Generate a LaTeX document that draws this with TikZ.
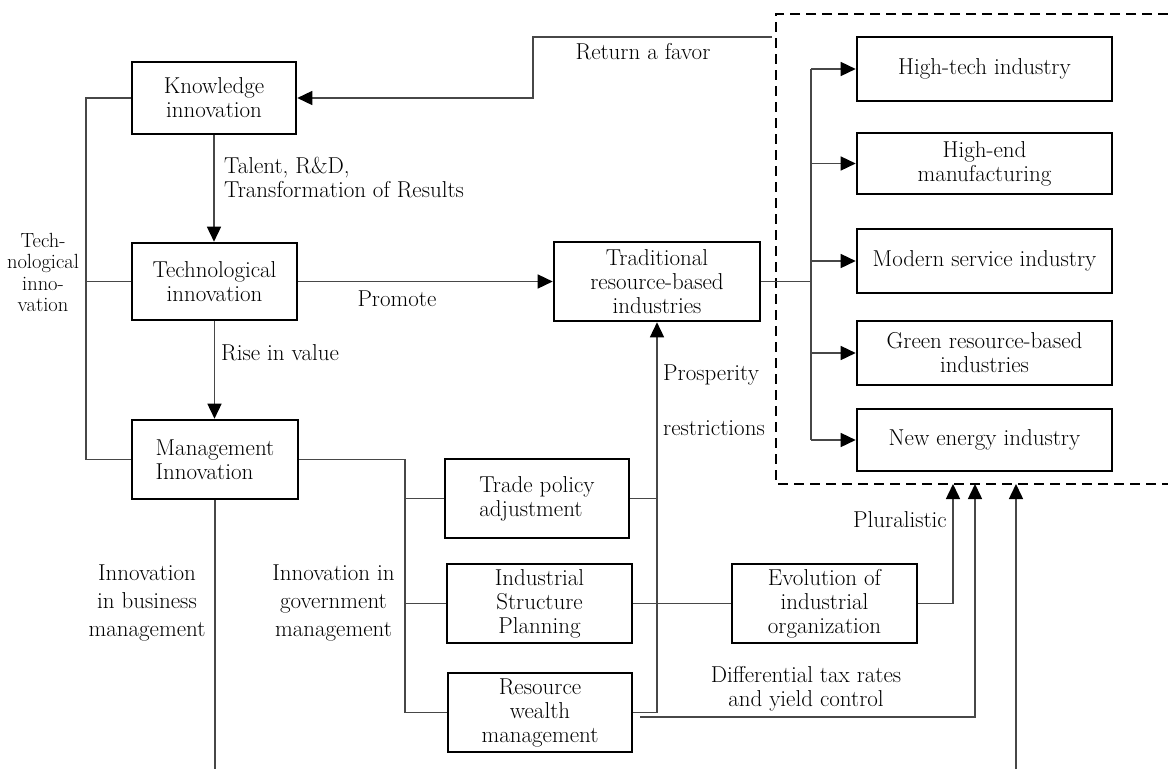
\documentclass[tikz,border=0pt]{standalone}
\usetikzlibrary{arrows.meta}
\newcommand{\bfnt}{\fontsize{23}{24}\selectfont}
\newcommand{\sfnt}{\fontsize{20.5}{21.5}\selectfont}
\newcommand{\lfnt}{\fontsize{23}{28}\selectfont}
\begin{document}
\begin{tikzpicture}[x=1pt,y=-1pt,
 box/.style={draw=black, line width=2.6pt, inner sep=0pt, align=center, font=\bfnt, text=black},
 conn/.style={draw=black!72, line width=1.5pt},
 arr/.style={conn, -{Triangle[length=15pt,width=14pt,color=black]}},
 lbl/.style={font=\bfnt, text=black, inner sep=0pt, align=center},
 grp/.style={draw=black, line width=2.8pt, dash pattern=on 10pt off 6pt},
 ]
\useasboundingbox[fill=white] (0,0) rectangle (1168,769);
% helper coordinates
\coordinate (lx) at (86,0);
\coordinate (gx) at (405,0);
\coordinate (bx) at (811,0);
\coordinate (rx) at (533,0);
\coordinate (mb) at (0,769);
\coordinate (rf) at (772,37);
\coordinate (ds) at (640,717);
\coordinate (p1) at (953,484);
\coordinate (p2) at (975,484);
\coordinate (p3) at (1016,484);
\coordinate (bb) at (1016,769);
% dashed group
\draw[grp] (1168,14) -- (776,14) -- (776,484) -- (1168,484);
% boxes
\node[box, minimum width=164pt, minimum height=72pt] (know) at (214,98) {Knowledge\\innovation};
\node[box, minimum width=165pt, minimum height=77pt] (tech) at (214.5,281.5) {Technological\\innovation};
\node[box, minimum width=166pt, minimum height=79pt, align=left] (mgmt) at (215,459.5) {Management\\Innovation};
\node[box, minimum width=206pt, minimum height=79pt] (trad) at (657,281.5) {Traditional\\resource-based\\industries};
\node[box, minimum width=184pt, minimum height=79pt, align=left] (trade) at (537,498.5) {Trade policy\\adjustment};
\node[box, minimum width=185pt, minimum height=79pt] (ind) at (539.5,603.5) {Industrial\\Structure\\Planning};
\node[box, minimum width=184pt, minimum height=79pt] (res) at (540,712.5) {Resource\\wealth\\management};
\node[box, minimum width=185pt, minimum height=79pt] (evo) at (824.5,603.5) {Evolution of\\industrial\\organization};
\node[box, minimum width=255pt, minimum height=64pt] (hitech) at (984.5,69) {High-tech industry};
\node[box, minimum width=255pt, minimum height=61pt] (hiend) at (984.5,163.5) {High-end\\manufacturing};
\node[box, minimum width=255pt, minimum height=64pt] (modern) at (984.5,261) {Modern service industry};
\node[box, minimum width=255pt, minimum height=64pt] (green) at (984.5,353) {Green resource-based\\industries};
\node[box, minimum width=255pt, minimum height=62pt] (newe) at (984.5,440) {New energy industry};
% labels
\node[lbl] (rfl) at (643,52) {Return a favor};
\node[lbl, align=left, anchor=west] (tal) at (224,178) {Talent, R\&D,\\Transformation of Results};
\node[lbl] (prom) at (397,299) {Promote};
\node[lbl, anchor=west] (rise) at (221,353) {Rise in value};
\node[lbl, anchor=west] (pros) at (663,375) {Prosperity};
\node[lbl, anchor=west] (restr) at (663,428) {restrictions};
\node[lbl, anchor=east] (plur) at (947,520) {Pluralistic};
\node[lbl] (diff) at (806,689) {Differential tax rates\\and yield control};
\node[lbl, font=\sfnt] (tni) at (43,272.5) {Tech-\\nological\\inno-\\vation};
\node[lbl, font=\lfnt] (ibm) at (147,603) {Innovation\\in business\\management};
\node[lbl, font=\lfnt] (igm) at (333.5,603) {Innovation in\\government\\management};
% connectors
\draw[conn] (know.west) -- (know.west -| lx) -- (mgmt.west -| lx) -- (mgmt.west);
\draw[conn] (tech.west -| lx) -- (tech.west);
\draw[arr] (know.south) -- (know.south |- tech.north);
\draw[arr] (tech.south) -- (tech.south |- mgmt.north);
\draw[arr] (tech.east) -- (tech.east -| trad.west);
\draw[conn] (mgmt.south) -- (mgmt.south |- mb);
\draw[conn] (mgmt.east) -- (mgmt.east -| gx) -- (res.west -| gx) -- (res.west);
\draw[conn] (trade.west -| gx) -- (trade.west);
\draw[conn] (ind.west -| gx) -- (ind.west);
\draw[arr] (res.east) -- (res.east -| trad.south) -- (trad.south);
\draw[conn] (trade.east) -- (trade.east -| trad.south);
\draw[conn] (ind.east) -- (evo.west);
\draw[arr] (evo.east) -- (evo.east -| p1) -- (p1);
\draw[arr] (ds) -- (ds -| p2) -- (p2);
\draw[arr] (bb) -- (p3);
\draw[conn] (trad.east) -- (trad.east -| bx);
\draw[conn] (hitech.west -| bx) -- (newe.west -| bx);
\foreach \n in {hitech,hiend,modern,green,newe} \draw[arr] (\n.west -| bx) -- (\n.west);
\draw[arr] (rf) -- (rf -| rx) -- (know.east -| rx) -- (know.east);
\end{tikzpicture}
\end{document}
